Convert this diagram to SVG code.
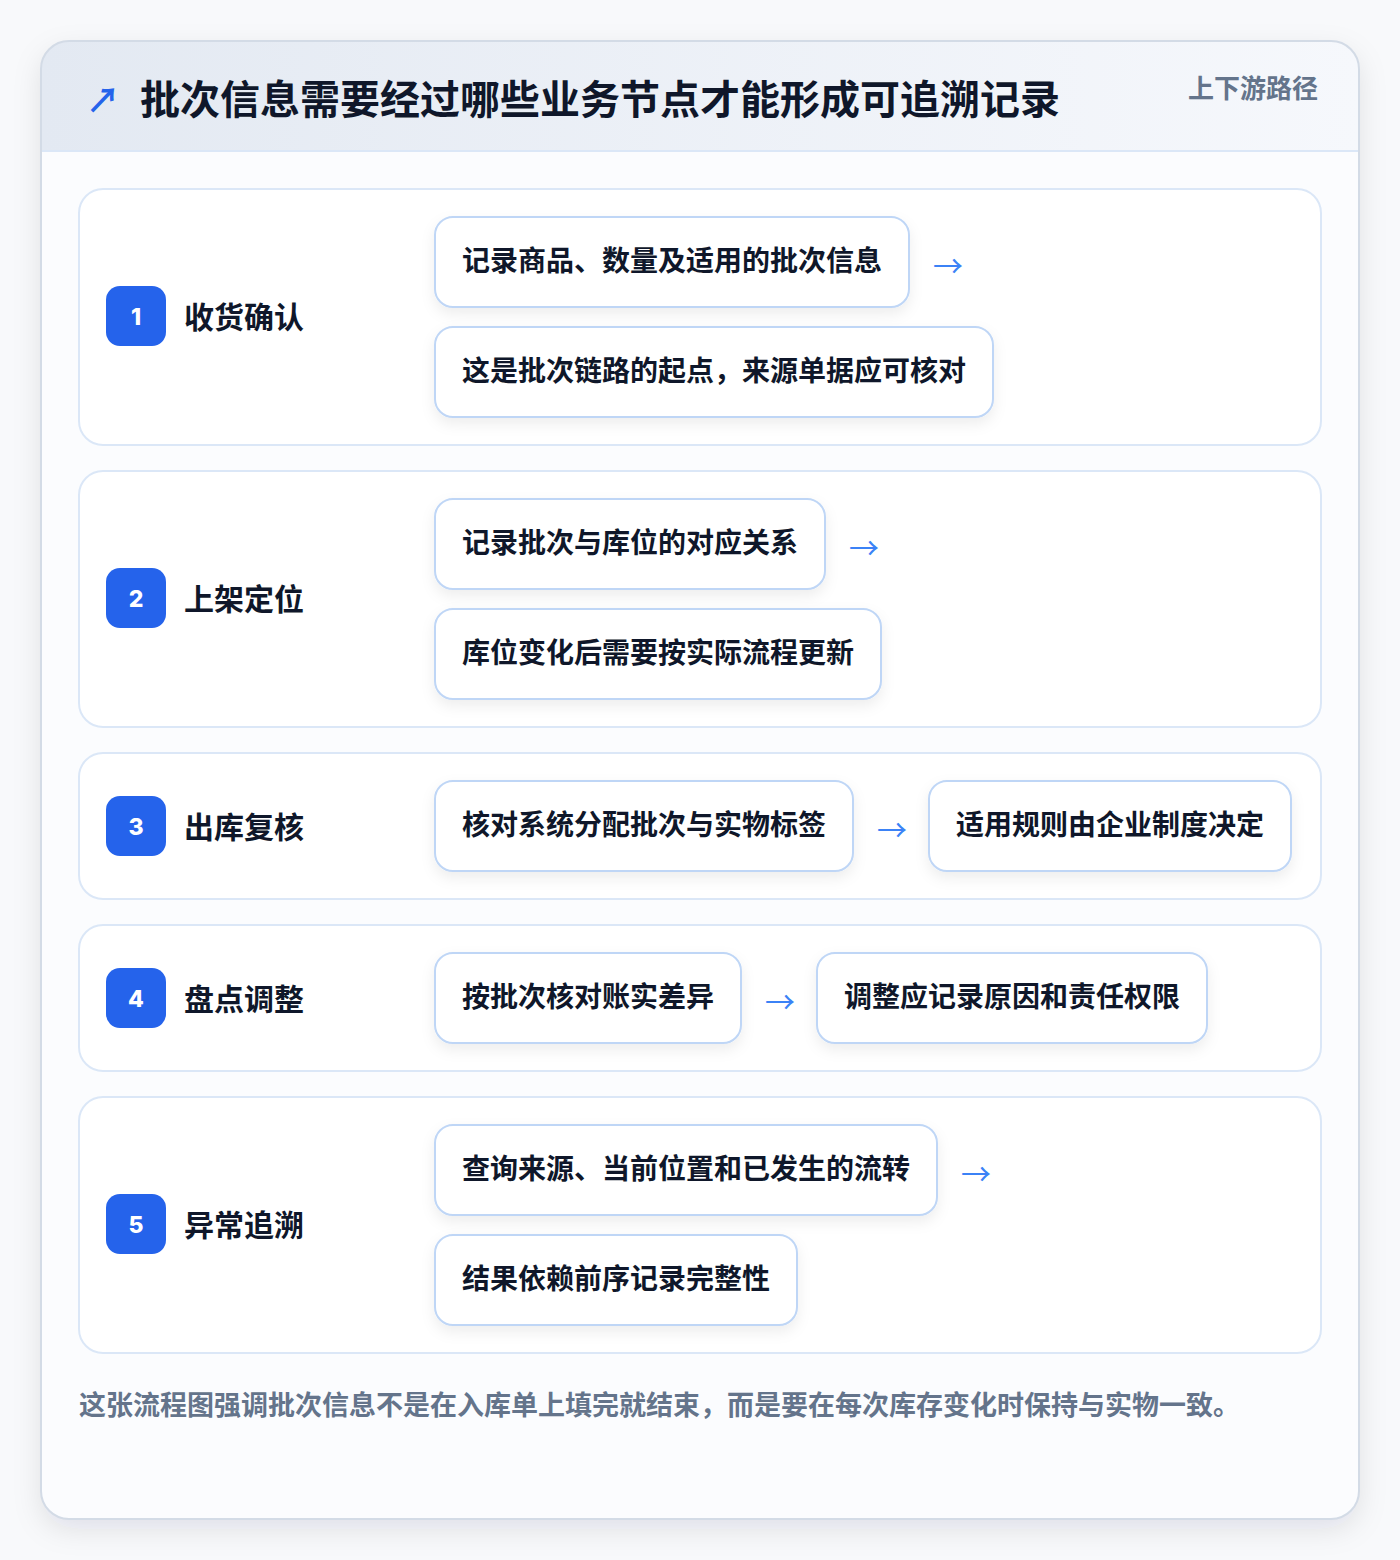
<svg xmlns="http://www.w3.org/2000/svg" width="1400" height="1560" viewBox="0 0 1400 1560">
<defs>
<style>
text{font-family:"Noto Sans CJK SC","Noto Sans",sans-serif;font-weight:700}
.stage{fill:#ffffff;stroke:#dbe7f7;stroke-width:2}
.item{fill:#ffffff;stroke:#bfd6f6;stroke-width:2}
.badge{fill:#2563eb}
.num{fill:#ffffff;font-size:23px;font-family:"Inter","Noto Sans",sans-serif;font-weight:800}
.lbl{fill:#0f172a;font-size:30px}
.it{fill:#0f172a;font-size:28px}
.arr{fill:#3b82f6;font-size:30px;font-weight:400;font-family:"Noto Sans CJK SC",sans-serif}
</style>
<linearGradient id="hdr" x1="0" y1="0" x2="1" y2="0">
<stop offset="0" stop-color="#e3e9f2"/>
<stop offset="1" stop-color="#f6f8fc"/>
</linearGradient>
<filter id="sh" x="-10%" y="-10%" width="120%" height="120%">
<feDropShadow dx="0" dy="10" stdDeviation="14" flood-color="#0f172a" flood-opacity="0.10"/>
</filter>
<filter id="sh2" x="-10%" y="-20%" width="120%" height="150%">
<feDropShadow dx="0" dy="6" stdDeviation="7" flood-color="#0f172a" flood-opacity="0.07"/>
</filter>
<clipPath id="cardclip"><rect x="41" y="41" width="1318" height="1478" rx="28"/></clipPath>
</defs>
<rect x="0" y="0" width="1400" height="1560" fill="#f8f9fb"/>
<g id="card">
<rect x="41" y="41" width="1318" height="1478" rx="28" fill="#ffffff" filter="url(#sh)"/>
<g clip-path="url(#cardclip)">
<rect x="41" y="41" width="1318" height="110" fill="url(#hdr)"/>
<rect x="41" y="151" width="1318" height="1368" fill="#fbfcfe"/>
<line x1="41" y1="151" x2="1359" y2="151" stroke="#dbe7f7" stroke-width="2"/>
</g>
<rect x="41" y="41" width="1318" height="1478" rx="28" fill="none" stroke="#d3dbe6" stroke-width="2"/>
</g>
<g id="header">
<text x="86" y="113" fill="#2563eb" font-size="34" font-family="DejaVu Sans,sans-serif" font-weight="400">↗</text>
<text x="140" y="114" fill="#0f172a" font-size="40" font-weight="900">批次信息需要经过哪些业务节点才能形成可追溯记录</text>
<text x="1318" y="98" fill="#64748b" font-size="26" text-anchor="end">上下游路径</text>
</g>
<g id="stage1">
<rect class="stage" x="79" y="189" width="1242" height="256" rx="24"/>
<rect class="badge" x="106" y="286" width="60" height="60" rx="14"/>
<text class="num" x="136" y="325" text-anchor="middle">1</text>
<text class="lbl" x="184" y="328">收货确认</text>
<g id="s1a"><rect class="item" x="435" y="217" width="474" height="90" rx="18" filter="url(#sh2)"/><text class="it" x="462" y="271">记录商品、数量及适用的批次信息</text></g>
<g id="s1b"><rect class="item" x="435" y="327" width="558" height="90" rx="18" filter="url(#sh2)"/><text class="it" x="462" y="381">这是批次链路的起点，来源单据应可核对</text></g>
</g>
<g id="stage2">
<rect class="stage" x="79" y="471" width="1242" height="256" rx="24"/>
<rect class="badge" x="106" y="568" width="60" height="60" rx="14"/>
<text class="num" x="136" y="607" text-anchor="middle">2</text>
<text class="lbl" x="184" y="610">上架定位</text>
<g id="s2a"><rect class="item" x="435" y="499" width="390" height="90" rx="18" filter="url(#sh2)"/><text class="it" x="462" y="553">记录批次与库位的对应关系</text></g>
<g id="s2b"><rect class="item" x="435" y="609" width="446" height="90" rx="18" filter="url(#sh2)"/><text class="it" x="462" y="663">库位变化后需要按实际流程更新</text></g>
</g>
<g id="stage3">
<rect class="stage" x="79" y="753" width="1242" height="146" rx="24"/>
<rect class="badge" x="106" y="796" width="60" height="60" rx="14"/>
<text class="num" x="136" y="835" text-anchor="middle">3</text>
<text class="lbl" x="184" y="838">出库复核</text>
<g id="s3a"><rect class="item" x="435" y="781" width="418" height="90" rx="18" filter="url(#sh2)"/><text class="it" x="462" y="835">核对系统分配批次与实物标签</text></g>
<g id="s3b"><rect class="item" x="929" y="781" width="362" height="90" rx="18" filter="url(#sh2)"/><text class="it" x="956" y="835">适用规则由企业制度决定</text></g>
</g>
<g id="stage4">
<rect class="stage" x="79" y="925" width="1242" height="146" rx="24"/>
<rect class="badge" x="106" y="968" width="60" height="60" rx="14"/>
<text class="num" x="136" y="1007" text-anchor="middle">4</text>
<text class="lbl" x="184" y="1010">盘点调整</text>
<g id="s4a"><rect class="item" x="435" y="953" width="306" height="90" rx="18" filter="url(#sh2)"/><text class="it" x="462" y="1007">按批次核对账实差异</text></g>
<g id="s4b"><rect class="item" x="817" y="953" width="390" height="90" rx="18" filter="url(#sh2)"/><text class="it" x="844" y="1007">调整应记录原因和责任权限</text></g>
</g>
<g id="stage5">
<rect class="stage" x="79" y="1097" width="1242" height="256" rx="24"/>
<rect class="badge" x="106" y="1194" width="60" height="60" rx="14"/>
<text class="num" x="136" y="1233" text-anchor="middle">5</text>
<text class="lbl" x="184" y="1236">异常追溯</text>
<g id="s5a"><rect class="item" x="435" y="1125" width="502" height="90" rx="18" filter="url(#sh2)"/><text class="it" x="462" y="1179">查询来源、当前位置和已发生的流转</text></g>
<g id="s5b"><rect class="item" x="435" y="1235" width="362" height="90" rx="18" filter="url(#sh2)"/><text class="it" x="462" y="1289">结果依赖前序记录完整性</text></g>
</g>
<g id="connectors">
<text class="arr" x="948" y="277" text-anchor="middle">→</text>
<text class="arr" x="864" y="559" text-anchor="middle">→</text>
<text class="arr" x="892" y="841" text-anchor="middle">→</text>
<text class="arr" x="780" y="1013" text-anchor="middle">→</text>
<text class="arr" x="976" y="1185" text-anchor="middle">→</text>
</g>
<g id="footer">
<text x="79" y="1415" fill="#64748b" font-size="27">这张流程图强调批次信息不是在入库单上填完就结束，而是要在每次库存变化时保持与实物一致。</text>
</g>
</svg>
